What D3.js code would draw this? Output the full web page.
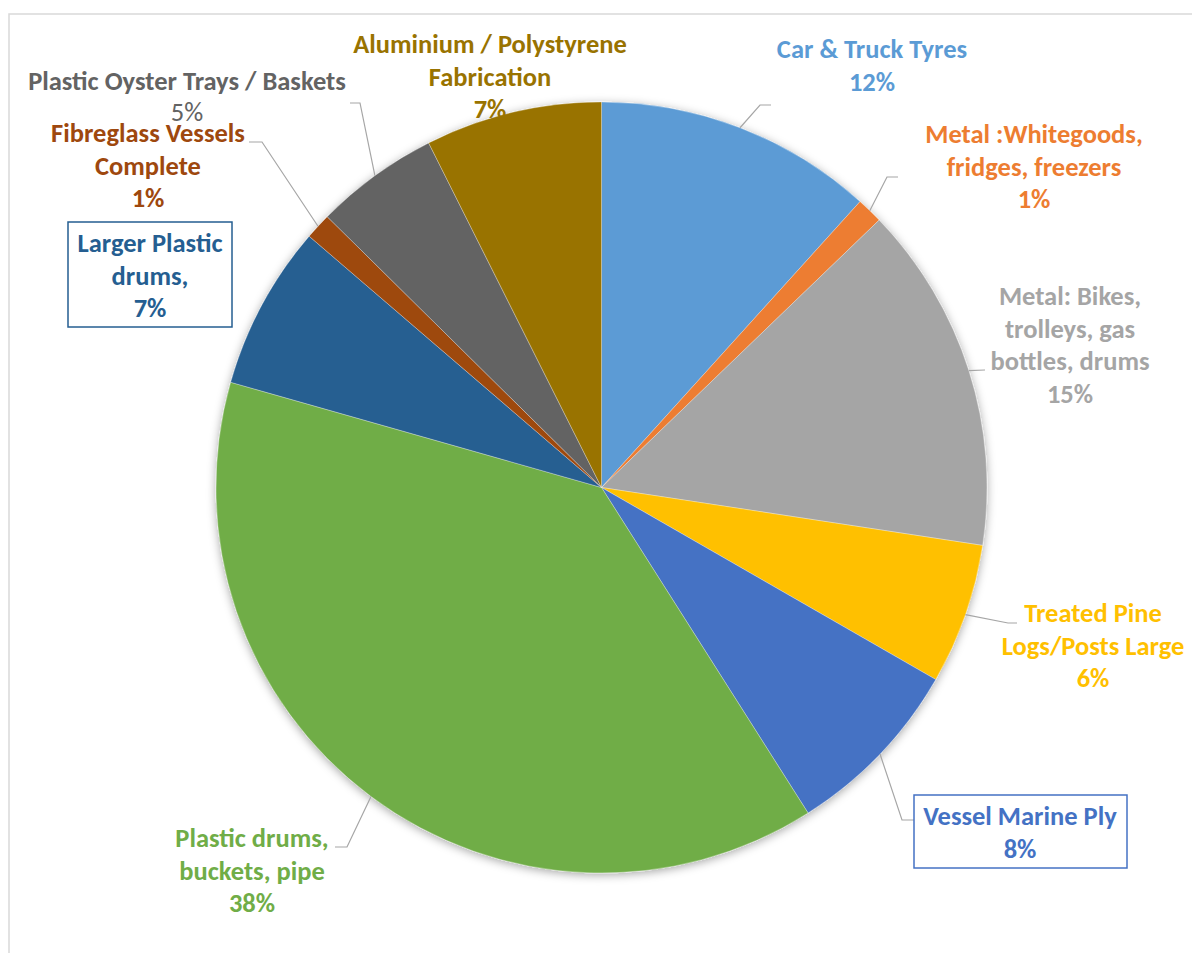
<!DOCTYPE html>
<html>
<head>
<meta charset="utf-8">
<script src="https://cdn.jsdelivr.net/npm/d3@7"></script>
<style>
  html, body { margin: 0; padding: 0; background: #fff; }
  svg { display: block; }
  text { font-family: Carlito, Calibri, Lato, sans-serif; }
</style>
</head>
<body>
<svg id="chart" width="1192" height="953"></svg>
<script>
// ---- data ----
const categories = [
  "Car & Truck Tyres",
  "Metal :Whitegoods, fridges, freezers",
  "Metal: Bikes, trolleys, gas bottles, drums",
  "Treated Pine Logs/Posts Large",
  "Vessel Marine Ply",
  "Plastic drums, buckets, pipe",
  "Larger Plastic drums,",
  "Fibreglass Vessels Complete",
  "Plastic Oyster Trays / Baskets",
  "Aluminium / Polystyrene Fabrication"
];
const values = [11.7, 1.1, 14.6, 5.9, 7.7, 38.4, 6.9, 1.1, 5.2, 7.4];
const colors = ["#5B9BD5", "#ED7D31", "#A5A5A5", "#FFC000", "#4472C4",
                "#70AD47", "#255E91", "#9E480E", "#636363", "#997300"];
const labelLines = [
  ["Car & Truck Tyres"],
  ["Metal :Whitegoods,", "fridges, freezers"],
  ["Metal: Bikes,", "trolleys, gas", "bottles, drums"],
  ["Treated Pine", "Logs/Posts Large"],
  ["Vessel Marine Ply"],
  ["Plastic drums,", "buckets, pipe"],
  ["Larger Plastic", "drums,"],
  ["Fibreglass Vessels", "Complete"],
  ["Plastic Oyster Trays / Baskets"],
  ["Aluminium / Polystyrene", "Fabrication"]
];

// ---- layout (positions only) ----
const cx = 601.5, cy = 487.5, R = 385.5;
const lineH = 32.5;
const layout = [
  { x: 872,  y: 58,  elbow: [760, 105], end: [771, 105] },
  { x: 1034, y: 143, elbow: [887, 177], end: [898, 177] },
  { x: 1070, y: 305, elbow: null,       end: [985, 370] },
  { x: 1093, y: 622, elbow: [1008, 623], end: [1017, 623] },
  { x: 1020, y: 825, elbow: [902, 820], end: [914, 820], box: [914, 795, 213, 73] },
  { x: 252,  y: 847, elbow: [347, 847], end: [335, 847] },
  { x: 150,  y: 252, box: [68, 222, 164, 105] },
  { x: 148,  y: 142, elbow: [262, 142], end: [249, 142] },
  { x: 187,  y: 90,  elbow: [360, 103], end: [350, 103], pctNormal: true, pctDy: -2 },
  { x: 490,  y: 53 }
];

const svg = d3.select("#chart");

// chart border
svg.append("rect")
  .attr("x", 9).attr("y", 14)
  .attr("width", 1200).attr("height", 960)
  .attr("fill", "none").attr("stroke", "#d9d9d9").attr("stroke-width", 1.5);

const defs = svg.append("defs");
const f = defs.append("filter").attr("id", "shadow")
  .attr("x", "-10%").attr("y", "-10%").attr("width", "120%").attr("height", "120%");
f.append("feDropShadow").attr("dx", 0).attr("dy", 2).attr("stdDeviation", 5)
  .attr("flood-color", "#000").attr("flood-opacity", 0.35);

const pie = d3.pie().sort(null).value(d => d);
const arcs = pie(values);
const arc = d3.arc().innerRadius(0).outerRadius(R);

const g = svg.append("g").attr("transform", `translate(${cx},${cy})`);
g.append("g").attr("filter", "url(#shadow)")
  .selectAll("path").data(arcs).join("path")
  .attr("d", arc)
  .attr("fill", (d, i) => colors[i])
  .attr("stroke", "#ffffff").attr("stroke-opacity", 0.5).attr("stroke-width", 0.6);

// leader lines
arcs.forEach((d, i) => {
  const L = layout[i];
  if (!L.end) return;
  const a = (d.startAngle + d.endAngle) / 2;
  const sx = cx + R * Math.sin(a), sy = cy - R * Math.cos(a);
  const pts = [[sx, sy]];
  if (L.elbow) pts.push(L.elbow);
  pts.push(L.end);
  svg.append("path")
    .attr("d", d3.line()(pts))
    .attr("fill", "none").attr("stroke", "#a6a6a6").attr("stroke-width", 1.2);
});

// labels
arcs.forEach((d, i) => {
  const L = layout[i];
  if (L.box) {
    svg.append("rect")
      .attr("x", L.box[0]).attr("y", L.box[1])
      .attr("width", L.box[2]).attr("height", L.box[3])
      .attr("fill", "#fff").attr("stroke", colors[i]).attr("stroke-width", 1.5);
  }
  const lines = labelLines[i].concat([Math.round(values[i]) + "%"]);
  const t = svg.append("text")
    .attr("text-anchor", "middle")
    .attr("fill", colors[i])
    .attr("font-size", 26.5)
    .attr("font-weight", 700);
  lines.forEach((s, k) => {
    const last = k === lines.length - 1;
    const ts = t.append("tspan").attr("x", L.x)
      .attr("y", L.y + k * lineH + (last && L.pctDy ? L.pctDy : 0)).text(s);
    if (L.pctNormal && last) ts.attr("font-weight", 400);
  });
});
</script>
</body>
</html>
